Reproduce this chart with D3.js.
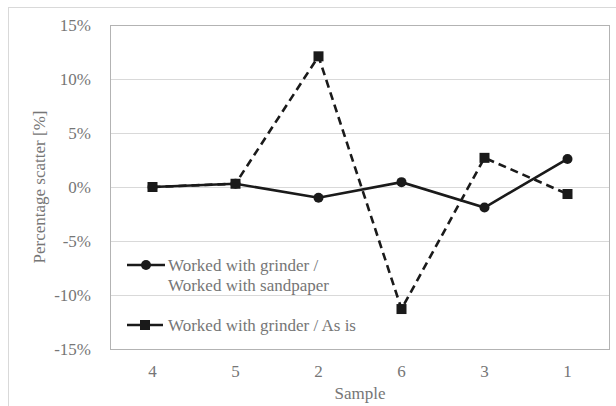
<!DOCTYPE html>
<html>
<head>
<meta charset="utf-8">
<script src="https://cdn.jsdelivr.net/npm/d3@7/dist/d3.min.js"></script>
<style>
  html, body { margin: 0; padding: 0; background: #fff; }
  svg { display: block; }
</style>
</head>
<body>
<svg id="chart" width="616" height="406"></svg>
<script>
// Sample order along the x axis
const samples = ["4", "5", "2", "6", "3", "1"];
// Percentage scatter per sample (%)
const grinderVsSandpaper = [0.0, 0.3, -1.0, 0.45, -1.9, 2.6];
const grinderVsAsIs = [0.0, 0.3, 12.1, -11.3, 2.7, -0.65];
const yTicks = [-15, -10, -5, 0, 5, 10, 15];
const seriesNames = ["Worked with grinder /\nWorked with sandpaper", "Worked with grinder / As is"];

const FONT = '"Liberation Serif", "Times New Roman", serif';
const TEXT = "#767676";
const INK = "#1a1a1a";

const svg = d3.select("#chart");
const margin = { left: 111, top: 25, right: 7, bottom: 57 };
const W = 616, H = 406;
const innerW = W - margin.left - margin.right;
const innerH = H - margin.top - margin.bottom;

const styleText = sel => sel.style("font-family", FONT).style("font-size", "17px").style("fill", TEXT);

// Outer chart frame
svg.append("rect")
  .attr("x", 8.5).attr("y", 7.5)
  .attr("width", W - 8).attr("height", H)
  .attr("fill", "#fff").attr("stroke", "#d9d9d9");

const g = svg.append("g").attr("transform", `translate(${margin.left},${margin.top})`);

const x = d3.scaleBand().domain(samples).range([0, innerW]);
const y = d3.scaleLinear().domain([-15, 15]).range([innerH, 0]);
const cx = d => x(d) + x.bandwidth() / 2;

// Horizontal gridlines
g.selectAll(".grid").data(yTicks).join("line")
  .attr("x1", 0).attr("x2", innerW)
  .attr("y1", d => Math.round(y(d)) + 0.5).attr("y2", d => Math.round(y(d)) + 0.5)
  .attr("stroke", "#d9d9d9").attr("stroke-width", 1);

// Plot area frame
g.append("rect")
  .attr("x", -0.5).attr("y", 0.5)
  .attr("width", innerW + 1).attr("height", innerH)
  .attr("fill", "none").attr("stroke", "#b3b3b3").attr("stroke-width", 1);

// Y axis labels
const yAxis = d3.axisLeft(y).tickValues(yTicks).tickFormat(d => d + "%").tickSize(0).tickPadding(20);
const ya = g.append("g").call(yAxis);
ya.select(".domain").remove();
ya.selectAll("text").call(styleText);

// X axis labels
const xAxis = d3.axisBottom(x).tickSize(0).tickPadding(16);
const xa = g.append("g").attr("transform", `translate(0,${innerH})`).call(xAxis);
xa.select(".domain").remove();
xa.selectAll("text").call(styleText);

// Axis titles
svg.append("text")
  .attr("transform", `translate(45,${margin.top + innerH / 2}) rotate(-90)`)
  .attr("text-anchor", "middle")
  .call(styleText)
  .text("Percentage scatter [%]");
svg.append("text")
  .attr("x", margin.left + innerW / 2).attr("y", 399)
  .attr("text-anchor", "middle")
  .call(styleText)
  .text("Sample");

const line = d3.line().x((d, i) => cx(samples[i])).y(d => y(d));

// Dashed series: grinder / as is
g.append("path").datum(grinderVsAsIs)
  .attr("d", line).attr("fill", "none")
  .attr("stroke", INK).attr("stroke-width", 2.6)
  .attr("stroke-dasharray", "8,5");
g.selectAll(".sq").data(grinderVsAsIs).join("rect")
  .attr("x", (d, i) => cx(samples[i]) - 5).attr("y", d => y(d) - 5)
  .attr("width", 10).attr("height", 10).attr("fill", INK);

// Solid series: grinder / sandpaper
g.append("path").datum(grinderVsSandpaper)
  .attr("d", line).attr("fill", "none")
  .attr("stroke", INK).attr("stroke-width", 2.6);
g.selectAll(".dot").data(grinderVsSandpaper).join("circle")
  .attr("cx", (d, i) => cx(samples[i])).attr("cy", d => y(d))
  .attr("r", 5).attr("fill", INK);

// Legend
const legend = svg.append("g");
const l1 = legend.append("g").attr("transform", "translate(127,265)");
l1.append("line").attr("x1", 0).attr("x2", 38).attr("stroke", INK).attr("stroke-width", 2.6);
l1.append("circle").attr("cx", 19).attr("r", 5).attr("fill", INK);
const t1 = l1.append("text").attr("x", 41).attr("y", 6).call(styleText);
seriesNames[0].split("\n").forEach((s, i) => {
  t1.append("tspan").attr("x", 41).attr("dy", i === 0 ? 0 : 20).text(s);
});

const l2 = legend.append("g").attr("transform", "translate(127,325)");
l2.append("line").attr("x1", 0).attr("x2", 36).attr("stroke", INK).attr("stroke-width", 2.6);
l2.append("rect").attr("x", 13).attr("y", -5).attr("width", 10).attr("height", 10).attr("fill", INK);
l2.append("text").attr("x", 41).attr("y", 6).call(styleText).text(seriesNames[1]);
</script>
</body>
</html>
